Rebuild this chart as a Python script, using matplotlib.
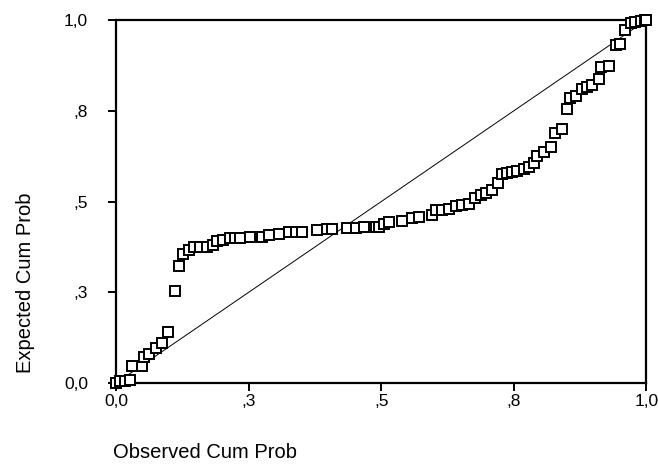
import matplotlib
matplotlib.use("Agg")
import matplotlib.pyplot as plt

plt.rcParams['font.family'] = ['Liberation Sans', 'DejaVu Sans']

# observed vs expected cumulative probability
observed = [0.0, 0.008, 0.017, 0.026, 0.030, 0.049, 0.053, 0.062, 0.075, 0.086,
            0.098, 0.111, 0.118, 0.126, 0.137, 0.147, 0.158, 0.171, 0.182, 0.190,
            0.201, 0.214, 0.224, 0.233, 0.252, 0.276, 0.289, 0.308, 0.327, 0.340,
            0.350, 0.378, 0.397, 0.408, 0.436, 0.453, 0.468, 0.491, 0.496, 0.506,
            0.515, 0.539, 0.558, 0.571, 0.596, 0.603, 0.615, 0.628, 0.641, 0.652,
            0.665, 0.677, 0.688, 0.697, 0.709, 0.720, 0.727, 0.737, 0.746, 0.756,
            0.769, 0.778, 0.788, 0.793, 0.806, 0.820, 0.827, 0.840, 0.850, 0.855,
            0.867, 0.878, 0.887, 0.897, 0.910, 0.915, 0.929, 0.942, 0.951, 0.959,
            0.970, 0.979, 0.989, 0.998, 1.0]
expected = [0.0, 0.006, 0.006, 0.008, 0.047, 0.047, 0.072, 0.080, 0.096, 0.110,
            0.140, 0.253, 0.322, 0.355, 0.366, 0.375, 0.375, 0.375, 0.380, 0.391,
            0.394, 0.399, 0.399, 0.399, 0.402, 0.402, 0.408, 0.410, 0.416, 0.416,
            0.416, 0.421, 0.424, 0.424, 0.427, 0.427, 0.430, 0.430, 0.430, 0.438,
            0.444, 0.446, 0.455, 0.457, 0.463, 0.477, 0.477, 0.479, 0.488, 0.490,
            0.493, 0.510, 0.518, 0.523, 0.532, 0.551, 0.576, 0.579, 0.581, 0.584,
            0.590, 0.595, 0.606, 0.625, 0.636, 0.650, 0.689, 0.700, 0.755, 0.785,
            0.791, 0.810, 0.815, 0.821, 0.837, 0.871, 0.873, 0.931, 0.934, 0.972,
            0.992, 0.994, 0.997, 1.0, 1.0]

ticks = [0.0, 0.25, 0.5, 0.75, 1.0]
tick_labels = ['0,0', ',3', ',5', ',8', '1,0']

fig = plt.figure(figsize=(6.59, 4.65), dpi=100)
ax = fig.add_axes([0.176, 0.176, 0.805, 0.781])

ax.plot([0, 1], [0, 1], color='black', lw=0.7)
ax.plot(observed, expected, linestyle='none', marker='s', ms=6.8,
        mfc='white', mec='black', mew=1.4, clip_on=False, zorder=3)

ax.set_xlim(0, 1)
ax.set_ylim(0, 1)
ax.set_xticks(ticks)
ax.set_xticklabels(tick_labels)
ax.set_yticks(ticks)
ax.set_yticklabels(tick_labels)
ax.tick_params(axis='both', direction='out', length=6, width=1.4,
               labelsize=12.5, color='black')
ax.tick_params(axis='x', pad=2)
ax.tick_params(axis='y', pad=14)
for s in ax.spines.values():
    s.set_linewidth(1.6)

fig.text(0.038, 0.391, 'Expected Cum Prob', rotation=90, ha='center',
         va='center', fontsize=14.5)
fig.text(0.171, 0.047, 'Observed Cum Prob', ha='left', va='top', fontsize=14.5)

fig.savefig('out.png', dpi=100)
